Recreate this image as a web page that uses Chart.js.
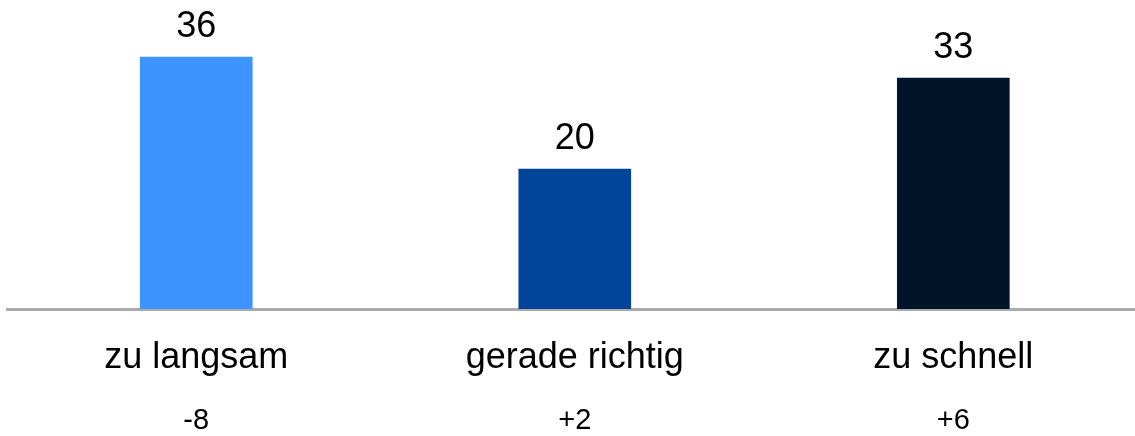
<!DOCTYPE html>
<html>
<head>
<meta charset="utf-8">
<script src="https://cdn.jsdelivr.net/npm/chart.js@4.4.1/dist/chart.umd.min.js"></script>
<style>
  html, body { margin: 0; padding: 0; background: #ffffff; }
  #wrap { width: 1135px; height: 436px; position: relative; }
</style>
</head>
<body>
<div id="wrap"><canvas id="c"></canvas></div>
<script>
const categories = ['zu langsam', 'gerade richtig', 'zu schnell'];
const values = [36, 20, 33];
const changes = ['-8', '+2', '+6'];
const barColors = ['#3d94ff', '#004599', '#00142a'];

const FONT = "'Liberation Sans', Arial, Helvetica, sans-serif";

const valueLabels = {
  id: 'valueLabels',
  afterDatasetsDraw(chart) {
    const ctx = chart.ctx;
    const meta = chart.getDatasetMeta(0);
    ctx.save();
    ctx.font = '36px ' + FONT;
    ctx.fillStyle = '#000000';
    ctx.textAlign = 'center';
    ctx.textBaseline = 'alphabetic';
    meta.data.forEach((bar, i) => {
      ctx.fillText(String(values[i]), bar.x, bar.y - 20);
    });
    ctx.restore();
  }
};

new Chart(document.getElementById('c'), {
  type: 'bar',
  data: {
    datasets: [{
      data: values.map((v, i) => ({ x: i, y: v })),
      backgroundColor: barColors,
      borderWidth: 0,
      barThickness: 112
    }]
  },
  options: {
    responsive: true,
    maintainAspectRatio: false,
    animation: false,
    layout: { padding: { left: 7, right: 0, top: 29, bottom: 0 } },
    plugins: { legend: { display: false }, tooltip: { enabled: false } },
    scales: {
      x: {
        type: 'linear',
        position: 'bottom',
        offset: false,
        min: -0.5,
        max: 2.48,
        afterBuildTicks: s => { s.ticks = categories.map((_, i) => ({ value: i })); },
        afterFit: s => { s.height = 91; },
        grid: { display: false, drawTicks: false, offset: false },
        border: { display: true, color: '#ababab', width: 3 },
        ticks: {
          autoSkip: false,
          maxRotation: 0,
          padding: 27,
          color: '#000000',
          font: { family: FONT, size: 36 },
          callback: v => categories[v]
        }
      },
      x2: {
        type: 'linear',
        position: 'bottom',
        offset: false,
        min: -0.5,
        max: 2.48,
        afterBuildTicks: s => { s.ticks = changes.map((_, i) => ({ value: i })); },
        afterFit: s => { s.height = 36; },
        grid: { display: false, drawTicks: false, offset: false },
        border: { display: false },
        ticks: {
          autoSkip: false,
          maxRotation: 0,
          padding: 4,
          color: '#000000',
          font: { family: FONT, size: 29 },
          callback: v => changes[v]
        }
      },
      y: {
        display: false,
        min: 0,
        max: 40
      }
    }
  },
  plugins: [valueLabels]
});
</script>
</body>
</html>
